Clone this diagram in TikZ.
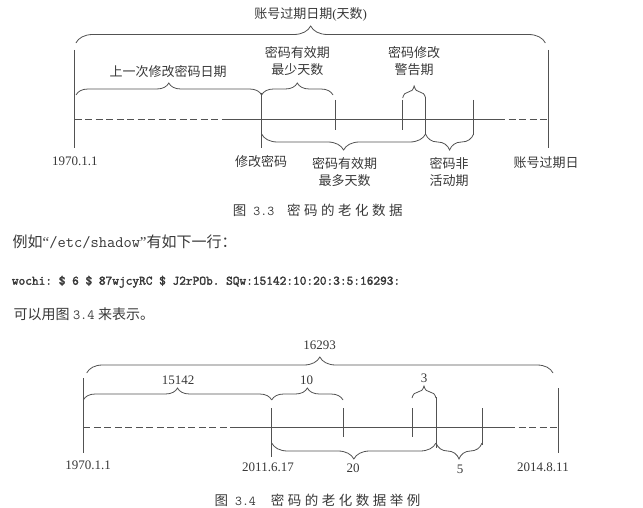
\documentclass[tikz,border=0pt]{standalone}
\usepackage{fontspec}
\setmainfont{Liberation Serif}
\newfontfamily\cjk{Noto Sans CJK SC}
\newfontfamily\codefont[FakeBold=2]{Latin Modern Mono}
\usetikzlibrary{decorations.pathreplacing}
\definecolor{ink}{gray}{0.22}
\definecolor{rule}{gray}{0.32}

\begin{document}
\begin{tikzpicture}[x=1pt, y=-1pt]
  \tikzstyle{lbl}=[inner sep=0pt, text=ink, align=center, font=\fontsize{13}{16.7}\selectfont]
  \tikzstyle{zh}=[lbl, font=\cjk\fontsize{13}{16.7}\selectfont]
  \tikzstyle{figcap}=[inner sep=0pt, text=ink, font=\fontsize{13.5}{16}\selectfont]
  \tikzstyle{para}=[inner sep=0pt, text=ink, anchor=west]
  \tikzstyle{tick}=[draw=rule, line width=0.8pt]
  \tikzstyle{timeline}=[draw=rule, line width=1.2pt]
  \tikzstyle{dashline}=[timeline, dash pattern=on 7pt off 3.5pt]
  \tikzstyle{bigbrace}=[draw=rule, line width=0.8pt, decorate, decoration={brace, amplitude=17pt}]
  \tikzstyle{smallbrace}=[draw=rule, line width=0.8pt, decorate, decoration={brace, amplitude=12pt}]
  \tikzstyle{lowbrace}=[draw=rule, line width=0.8pt, decorate, decoration={brace, amplitude=16pt}]

  \useasboundingbox (0,0) rectangle (643,508);

  % Figure 3.3
  \draw[dashline] (74.6,119.3) -- (223.5,119.3);
  \draw[timeline] (223.5,119.3) -- (498,119.3);
  \draw[dashline] (498,119.3) -- (548.3,119.3);

  \draw[tick] (74.6,50) -- (74.6,148);
  \draw[tick] (548.3,50) -- (548.3,148);
  \draw[tick] (261.6,93) -- (261.6,148);
  \draw[tick] (335.4,100) -- (335.4,130);
  \draw[tick] (402.7,100) -- (402.7,130);
  \draw[tick] (425.6,98) -- (425.6,135);
  \draw[tick] (473.6,100) -- (473.6,135);

  \draw[bigbrace] (75.9,43) -- (545.4,43);
  \draw[smallbrace] (76,95) -- (261.6,95);
  \draw[smallbrace] (261.6,95) -- (333,95);
  \draw[smallbrace] (402.7,98) -- (425.6,98);
  \draw[lowbrace] (425.6,134) -- (261.6,134);
  \draw[lowbrace] (473.6,134) -- (425.6,134);

  \node[zh] (span1) at (310.6,14) {账号过期日期{\rmfamily (}天数{\rmfamily )}};
  \node[zh] (last1) at (168,71.7) {上一次修改密码日期};
  \node[zh] (min1) at (297.3,61) {密码有效期\\最少天数};
  \node[zh] (warn1) at (414.2,61) {密码修改\\警告期};
  \node[lbl] (epoch1) at (74.8,161.7) {1970.1.1};
  \node[zh] (chg1) at (261.2,161.7) {修改密码};
  \node[zh] (max1) at (344.5,171.7) {密码有效期\\最多天数};
  \node[zh] (inact1) at (449,171.7) {密码非\\活动期};
  \node[zh] (expire1) at (546,162.5) {账号过期日};
  \node[figcap] (cap1) at (317.8,210.7) {{\cjk 图}\hspace{7pt}{\ttfamily 3.3}\hspace{13pt}{\cjk 密\hspace{3.5pt}码\hspace{3.5pt}的\hspace{3.5pt}老\hspace{3.5pt}化\hspace{3.5pt}数\hspace{3.5pt}据}};

  % text between the figures
  \node[para, font=\fontsize{15}{18}\selectfont] (line1) at (12.5,242)
    {{\cjk 例如}“{\ttfamily\fontsize{16}{18}\selectfont /etc/shadow}”{\cjk 有如下一行：}};
  \node[para, font=\codefont\fontsize{13}{16}\selectfont] (shadow) at (11.7,281.7)
    {wochi:\ \$\ 6\ \$\ 87wjcyRC\ \$\ J2rPOb.\ SQw:15142:10:20:3:5:16293:};
  \node[para, font=\fontsize{14}{17}\selectfont] (line2) at (13.3,314)
    {{\cjk 可以用图}\ {\ttfamily 3.4}\ {\cjk 来表示。}};

  % Figure 3.4
  \draw[dashline] (83.3,427.7) -- (233,427.7);
  \draw[timeline] (233,427.7) -- (508,427.7);
  \draw[dashline] (508,427.7) -- (558,427.7);

  \draw[tick] (83.3,378) -- (83.3,453);
  \draw[tick] (558,388) -- (558,453);
  \draw[tick] (271.7,408) -- (271.7,457);
  \draw[tick] (343,408) -- (343,437);
  \draw[tick] (412,408) -- (412,437);
  \draw[tick] (436,397) -- (436,448);
  \draw[tick] (482,408) -- (482,445);

  \draw[lowbrace] (86.7,373) -- (553,373);
  \draw[smallbrace] (83.3,400) -- (271.7,400);
  \draw[smallbrace] (271.7,400) -- (343,400);
  \draw[smallbrace] (412,398) -- (436,398);
  \draw[lowbrace] (436,443) -- (271.7,443);
  \draw[lowbrace] (482,443) -- (436,443);

  \node[lbl] (span2) at (319.5,345) {16293};
  \node[lbl] (last2) at (178,380) {15142};
  \node[lbl] (min2) at (306.7,380) {10};
  \node[lbl] (warn2) at (424,378) {3};
  \node[lbl] (epoch2) at (88,465) {1970.1.1};
  \node[lbl] (chg2) at (268,467) {2011.6.17};
  \node[lbl] (max2) at (353,468) {20};
  \node[lbl] (inact2) at (460,469) {5};
  \node[lbl] (expire2) at (543,467) {2014.8.11};
  \node[figcap] (cap2) at (317.5,500) {{\cjk 图}\hspace{7pt}{\ttfamily 3.4}\hspace{15pt}{\cjk 密\hspace{3.5pt}码\hspace{3.5pt}的\hspace{3.5pt}老\hspace{3.5pt}化\hspace{3.5pt}数\hspace{3.5pt}据\hspace{3.5pt}举\hspace{3.5pt}例}};

\end{tikzpicture}
\end{document}
